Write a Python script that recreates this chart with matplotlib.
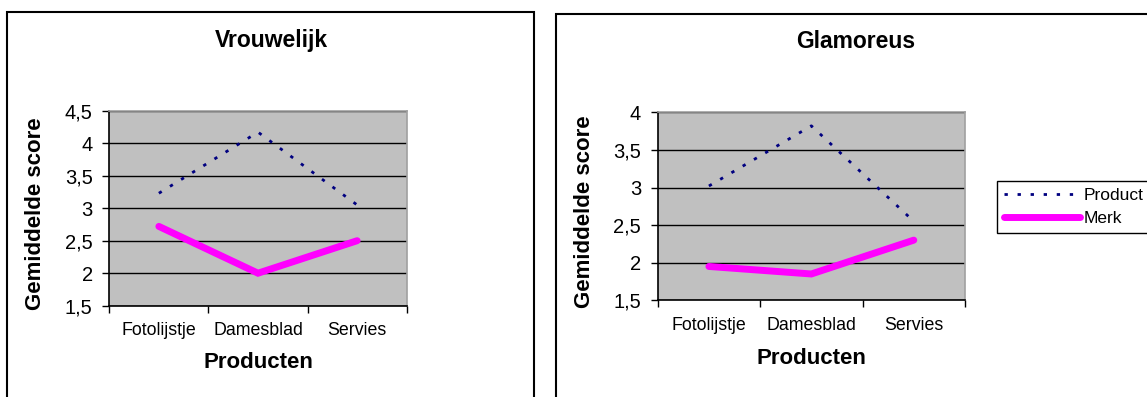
import matplotlib
matplotlib.use("Agg")
import matplotlib.pyplot as plt
from matplotlib.ticker import FixedLocator, FuncFormatter
from matplotlib.patches import Rectangle

plt.rcParams['font.family'] = ['Liberation Sans', 'DejaVu Sans']

producten = ['Fotolijstje', 'Damesblad', 'Servies']

# Vrouwelijk
vrouw_product = [3.23, 4.17, 3.05]
vrouw_merk = [2.72, 2.0, 2.5]

# Glamoreus
glam_product = [3.02, 3.82, 2.55]
glam_merk = [1.95, 1.85, 2.30]

W, H = 1147, 397
fig = plt.figure(figsize=(W / 100, H / 100), dpi=100)


def fx(px):
    return px / W


def fy(py):
    return 1 - py / H


def komma(v, pos):
    s = ('%.1f' % v).rstrip('0').rstrip('.')
    return s.replace('.', ',')


def teken(rect, product, merk, ylim, yticks):
    x0, x1, ytop, ybot = rect
    ax = fig.add_axes([fx(x0), fy(ybot), fx(x1 - x0), (ybot - ytop) / H])
    ax.set_facecolor('#c0c0c0')
    x = range(len(producten))
    l1, = ax.plot(x, product, color='#000080', lw=2.0, linestyle=(0, (1.2, 3.5)),
                  label='Product', zorder=3)
    l2, = ax.plot(x, merk, color='#ff00ff', lw=5, solid_capstyle='round',
                  solid_joinstyle='miter', label='Merk', zorder=3)
    ax.set_xlim(-0.5, 2.5)
    ax.set_ylim(*ylim)
    ax.set_yticks(yticks)
    ax.yaxis.set_major_formatter(FuncFormatter(komma))
    for t in yticks:
        ax.axhline(t, color='black', lw=1.0, zorder=1)
    ax.set_xticks(list(x))
    ax.set_xticklabels(producten)
    ax.xaxis.set_minor_locator(FixedLocator([-0.5, 0.5, 1.5, 2.5]))
    ax.tick_params(axis='x', which='major', length=0, pad=12, labelsize=12.8)
    ax.tick_params(axis='x', which='minor', length=5, width=1, direction='out')
    ax.tick_params(axis='y', length=5, width=1, direction='out', pad=7, labelsize=14.5)
    ax.spines['left'].set_color('black')
    ax.spines['bottom'].set_color('black')
    ax.spines['top'].set_color('#a0a0a0')
    ax.spines['right'].set_color('#a0a0a0')
    for s in ax.spines.values():
        s.set_linewidth(1.2)
    return ax, l1, l2


ax1, _, _ = teken((109.3, 406.7, 110.7, 305.7), vrouw_product, vrouw_merk,
                  (1.5, 4.5), [1.5, 2, 2.5, 3, 3.5, 4, 4.5])
ax2, p, m = teken((657.7, 965, 112.3, 300.3), glam_product, glam_merk,
                  (1.5, 4), [1.5, 2, 2.5, 3, 3.5, 4])

# kaders
fig.add_artist(Rectangle((fx(7), fy(420)), fx(534 - 7), (420 - 12) / H,
                         transform=fig.transFigure, fill=False, ec='black', lw=1.5))
fig.add_artist(Rectangle((fx(556), fy(420)), fx(620), (420 - 14) / H,
                         transform=fig.transFigure, fill=False, ec='black', lw=1.5))

# titels en assen
fig.text(fx(271), fy(40), 'Vrouwelijk', ha='center', va='center', fontsize=16.5, fontweight='bold')
fig.text(fx(856), fy(42), 'Glamoreus', ha='center', va='center', fontsize=16.5, fontweight='bold')
fig.text(fx(36), fy(214), 'Gemiddelde score', ha='center', va='center', rotation=90,
         fontsize=16, fontweight='bold')
fig.text(fx(585), fy(212), 'Gemiddelde score', ha='center', va='center', rotation=90,
         fontsize=16, fontweight='bold')
fig.text(fx(258), fy(363), 'Producten', ha='center', va='center', fontsize=16, fontweight='bold')
fig.text(fx(811), fy(358), 'Producten', ha='center', va='center', fontsize=16, fontweight='bold')

leg = fig.legend([p, m], ['Product', 'Merk'], loc='upper left',
                 bbox_to_anchor=(fx(997), fy(181)), bbox_transform=fig.transFigure,
                 fontsize=12.5, frameon=True, fancybox=False, framealpha=1,
                 edgecolor='black', handlelength=4.4, handletextpad=0.2,
                 borderpad=0.4, labelspacing=0.45, borderaxespad=0)
leg.get_frame().set_linewidth(1.0)

fig.savefig('out.png', dpi=100)
